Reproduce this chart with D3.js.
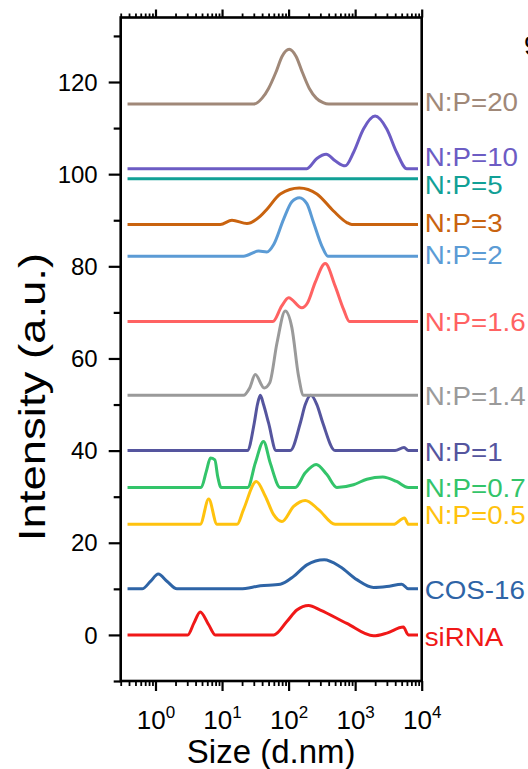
<!DOCTYPE html>
<html><head><meta charset="utf-8">
<script src="https://cdn.jsdelivr.net/npm/d3@7"></script>
<style>
html,body{margin:0;padding:0;background:#fff;overflow:hidden}
svg{display:block;font-family:Arial,"Liberation Sans",sans-serif}
</style></head><body>
<svg id="c" width="528" height="769"></svg>
<script>
// ---- data (size in d.nm, intensity in a.u., stacked offsets included) ----
const seriesNames = ["siRNA","COS-16","N:P=0.5","N:P=0.7","N:P=1","N:P=1.4","N:P=1.6","N:P=2","N:P=3","N:P=5","N:P=10","N:P=20"];

const size_siRNA = [0.38, 3.05, 3.76, 4.7, 6.3, 7.9, 60, 94, 133, 200, 300, 750, 1885, 2990, 5300, 6300, 8800];
const int_siRNA  = [0, 0, 2.5, 5.0, 2.2, 0, 0, 2.9, 5.4, 6.4, 5.4, 2.5, -0.2, 0.4, 1.7, 0, 0];

const size_COS16 = [0.38, 0.63, 0.84, 1.1, 1.5, 2.1, 18.8, 37.6, 75, 119, 188, 343, 596, 1060, 1885, 2990, 5020, 6300, 8800];
const int_COS16  = [10, 10, 11.6, 13.2, 11.6, 10, 10, 10.65, 11.0, 12.7, 15.2, 16.3, 14.8, 12.0, 10.3, 10.5, 11.0, 10, 10];

const size_NP05 = [0.38, 4.7, 6.3, 8.4, 16.8, 21, 32.7, 44.7, 59.6, 79.4, 119, 178, 282, 500, 3760, 5500, 6300, 8800];
const int_NP05  = [24, 24, 29.5, 24, 24, 27.2, 33.3, 30.1, 26.1, 24.6, 27.9, 29.2, 27.2, 24, 24, 25.4, 24, 24];

const size_NP07 = [0.38, 4.85, 5.8, 6.7, 7.8, 8.6, 9.7, 24.3, 31.6, 42, 53, 75, 126, 178, 260, 376, 531, 944, 1500, 2600, 4200, 6300, 8800];
const int_NP07  = [32, 32, 35.5, 38.4, 38.0, 34.4, 32, 32, 37.3, 42.0, 37.3, 32, 32, 35.2, 37.0, 34.8, 32, 32.6, 33.8, 34.3, 33.3, 32, 32];

const size_NP1 = [0.38, 24, 30.5, 34, 37.6, 42, 50, 65, 106, 150, 178, 216, 266, 327, 500, 3980, 5430, 6300, 8800];
const int_NP1  = [40, 40, 46, 50, 52, 50, 46, 40, 40, 46, 50, 52, 50, 46, 40, 40, 40.7, 40, 40];

const size_NP14 = [0.38, 21, 26, 31.6, 43, 52, 67, 89, 112, 141, 168, 8800];
const int_NP14  = [52, 52, 53.6, 56.5, 53.6, 54.7, 63.4, 70.3, 66.7, 56.2, 52, 52];

const size_NP16 = [0.38, 58, 79, 100, 158, 193, 251, 355, 501, 668, 822, 8800];
const int_NP16  = [68, 68, 71.4, 73.2, 71.0, 72.1, 76.5, 80.6, 75.7, 70.7, 68, 68];

const size_NP2 = [0.38, 21, 35.5, 47, 60, 84, 112, 145, 188, 237, 316, 390, 8800];
const int_NP2  = [82.2, 82.2, 83.3, 83.1, 84.8, 90.2, 94.0, 94.9, 93.6, 89.5, 84.4, 82.2, 82.2];

const size_NP3 = [0.38, 9.4, 14.1, 23.7, 37.6, 47.3, 75, 145, 266, 473, 750, 890, 8800];
const int_NP3  = [89.1, 89.1, 90.0, 89.3, 90.9, 92.4, 95.7, 97.0, 95.7, 92, 89.5, 89.1, 89.1];

const size_NP5 = [0.38, 8800];
const int_NP5  = [99, 99];

const size_NP10 = [0.38, 188, 266, 367, 501, 708, 944, 1334, 1995, 2985, 4217, 5960, 8800];
const int_NP10  = [101.2, 101.2, 103.4, 104.3, 102.9, 101.8, 104.7, 109.8, 112.6, 109.8, 104.7, 101.2, 101.2];

const size_NP20 = [0.38, 30, 40, 50, 64, 80, 102, 129, 162, 205, 260, 330, 400, 8800];
const int_NP20  = [115.2, 115.2, 116.5, 118.6, 122, 125.6, 127.1, 125.6, 122, 118.6, 116.5, 115.5, 115.2, 115.2];

const xMajorTicks = [1, 10, 100, 1000, 10000];
const xTickExponents = ["0","1","2","3","4"];
const yMajorTicks = [0, 20, 40, 60, 80, 100, 120];
const yMinorTicks = [-10, 10, 30, 50, 70, 90, 110, 130];
const xDomain = [0.3, 10000];
const yDomain = [-10, 134];
// label anchor (intensity units) for right-side series names
const labelAt = [-2.4, 7.9, 24.1, 29.9, 37.8, 49.9, 66.0, 80.4, 87.5, 95.8, 101.8, 113.8];

// ---- styles ----
const colors = ["#f01818","#2e64a6","#ffc20e","#33c46a","#55559e","#9a9a9a","#ff6262","#5b9bd5","#c9630f","#11a096","#6c5cc4","#a08878"];

const sizesAll = [size_siRNA,size_COS16,size_NP05,size_NP07,size_NP1,size_NP14,size_NP16,size_NP2,size_NP3,size_NP5,size_NP10,size_NP20];
const intsAll  = [int_siRNA,int_COS16,int_NP05,int_NP07,int_NP1,int_NP14,int_NP16,int_NP2,int_NP3,int_NP5,int_NP10,int_NP20];

const svg = d3.select("#c");
const L = 120.7, R = 421.7, T = 17.5, B = 681;
const x = d3.scaleLog().domain(xDomain).range([L, R]);
const y = d3.scaleLinear().domain(yDomain).range([B, T]);

const isMajor = v => xMajorTicks.some(m => Math.abs(m - v) < 1e-9 * m);
const xMinor = x.ticks().filter(v => !isMajor(v));

function styleAxis(g, w) {
  g.select(".domain").remove();
  g.selectAll(".tick line").attr("stroke", "#000").attr("stroke-width", w);
}

// bottom axis
svg.append("g").attr("transform", `translate(0,${B})`)
  .call(d3.axisBottom(x).tickValues(xMinor).tickSize(5).tickSizeOuter(0).tickFormat(""))
  .call(g => styleAxis(g, 1.8));
const gxb = svg.append("g").attr("transform", `translate(0,${B})`)
  .call(d3.axisBottom(x).tickValues(xMajorTicks).tickSize(10).tickSizeOuter(0).tickFormat(""))
  .call(g => styleAxis(g, 2.2));
gxb.selectAll(".tick").each(function(d, i) {
  const t = d3.select(this).append("text")
    .attr("y", 48).attr("fill", "#000").attr("text-anchor", "middle")
    .style("font-size", "26px");
  t.append("tspan").text("10");
  t.append("tspan").attr("dy", -11).style("font-size", "17px").text(xTickExponents[i]);
});

// top axis
svg.append("g").attr("transform", `translate(0,${T})`)
  .call(d3.axisTop(x).tickValues(xMinor).tickSize(4).tickSizeOuter(0).tickFormat(""))
  .call(g => styleAxis(g, 1.8));
svg.append("g").attr("transform", `translate(0,${T})`)
  .call(d3.axisTop(x).tickValues(xMajorTicks).tickSize(8).tickSizeOuter(0).tickFormat(""))
  .call(g => styleAxis(g, 2.2));

// left axis
svg.append("g").attr("transform", `translate(${L},0)`)
  .call(d3.axisLeft(y).tickValues(yMinorTicks).tickSize(7).tickSizeOuter(0).tickFormat(""))
  .call(g => styleAxis(g, 2.2));
const gyl = svg.append("g").attr("transform", `translate(${L},0)`)
  .call(d3.axisLeft(y).tickValues(yMajorTicks).tickSize(12).tickSizeOuter(0).tickPadding(11))
  .call(g => styleAxis(g, 2.2));
gyl.selectAll(".tick text").attr("fill", "#000").style("font-size", "24px").style("font-family", "Arial, 'Liberation Sans', sans-serif").attr("dy", "0.34em");

// frame
svg.append("rect").attr("x", L).attr("y", T).attr("width", R - L).attr("height", B - T)
  .attr("fill", "none").attr("stroke", "#000").attr("stroke-width", 2.6);

// curves
const line = d3.line().x(d => x(d[0])).y(d => y(d[1])).curve(d3.curveMonotoneX);
seriesNames.forEach((name, i) => {
  const pts = sizesAll[i].map((s, j) => [s, intsAll[i][j]]);
  svg.append("path").datum(pts).attr("d", line)
    .attr("fill", "none").attr("stroke", colors[i]).attr("stroke-width", 3)
    .attr("stroke-linejoin", "round").attr("stroke-linecap", "butt");
  svg.append("text").attr("transform", `translate(${R + 3},${y(labelAt[i])}) scale(1.11,1)`)
    .attr("fill", colors[i]).style("font-size", "25px").text(name);
});

// axis titles
svg.append("text").attr("x", (L + R) / 2).attr("y", 763).attr("text-anchor", "middle")
  .style("font-size", "33px").attr("fill", "#000").text("Size (d.nm)");
svg.append("text").attr("transform", "translate(45,397) rotate(-90) scale(1.23,1)")
  .attr("text-anchor", "middle").style("font-size", "37px").attr("fill", "#000").text("Intensity (a.u.)");

// clipped panel letter at the top-right edge
svg.append("text").attr("x", 524).attr("y", 55).style("font-size", "27px").attr("fill", "#000").text("9");
</script>
</body></html>
